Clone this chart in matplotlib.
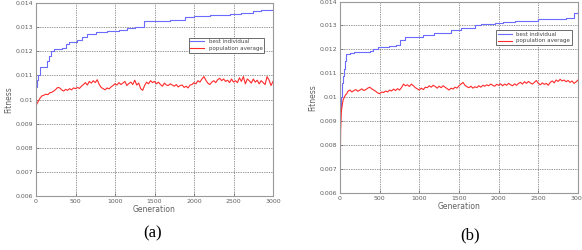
import numpy as np
import matplotlib
matplotlib.use("Agg")
import matplotlib.pyplot as plt

# ---- panel (a) data ----
best_a_gen = [0, 15, 30, 50, 140, 160, 190, 230, 330, 380, 420, 520, 580, 640, 760,
              900, 1050, 1150, 1250, 1370, 1700, 1880, 2000, 2200, 2450, 2600, 2750,
              2850, 2950, 3000]
best_a = [0.0105, 0.0108, 0.0110, 0.01135, 0.0116, 0.0118, 0.0120, 0.0121, 0.01215,
          0.0123, 0.0124, 0.01245, 0.0126, 0.0127, 0.0128, 0.01285, 0.0129, 0.01295,
          0.0130, 0.01325, 0.0133, 0.0134, 0.01345, 0.0135, 0.01355, 0.0136, 0.01365,
          0.0137, 0.01373, 0.01377]

avg_a_gen = np.arange(0, 3001, 25)
avg_a = [
    0.00975, 0.00990, 0.01005, 0.01015, 0.01018, 0.01022, 0.01020, 0.01028, 0.01030, 0.01035,
    0.01042, 0.01050, 0.01048, 0.01040, 0.01035, 0.01042, 0.01038, 0.01045, 0.01040, 0.01048,
    0.01045, 0.01050, 0.01046, 0.01055, 0.01062, 0.01070, 0.01060, 0.01075, 0.01068, 0.01078,
    0.01070, 0.01082, 0.01062, 0.01050, 0.01045, 0.01040, 0.01048, 0.01044, 0.01052, 0.01058,
    0.01065, 0.01060, 0.01070, 0.01062, 0.01068, 0.01075, 0.01058, 0.01066, 0.01072, 0.01062,
    0.01080, 0.01060, 0.01068, 0.01045, 0.01038, 0.01058, 0.01072, 0.01065, 0.01078, 0.01070,
    0.01075, 0.01065, 0.01072, 0.01062, 0.01055, 0.01068, 0.01060, 0.01058, 0.01065, 0.01060,
    0.01055, 0.01062, 0.01052, 0.01058, 0.01060, 0.01050, 0.01055, 0.01048, 0.01060, 0.01062,
    0.01070, 0.01065, 0.01078, 0.01072, 0.01085, 0.01095, 0.01080, 0.01068, 0.01062, 0.01072,
    0.01078, 0.01070, 0.01082, 0.01088, 0.01078, 0.01085, 0.01075, 0.01080, 0.01070, 0.01085,
    0.01072, 0.01078, 0.01070, 0.01090, 0.01075, 0.01095, 0.01065, 0.01085, 0.01078, 0.01068,
    0.01085, 0.01072, 0.01080, 0.01065, 0.01078, 0.01070, 0.01062, 0.01095, 0.01080, 0.01058,
    0.01075]

# ---- panel (b) data ----
best_b_gen = [0, 10, 20, 30, 40, 50, 60, 70, 80, 100, 130, 180, 380, 420, 480, 620, 700,
              760, 820, 1050, 1180, 1400, 1520, 1700, 1780, 1950, 2050, 2200, 2500, 2850,
              2950, 3000]
best_b = [0.0095, 0.0100, 0.0103, 0.0106, 0.0109, 0.0112, 0.0115, 0.0117, 0.0118,
          0.01182, 0.01185, 0.0119, 0.01195, 0.0120, 0.0121, 0.01215, 0.0122, 0.0124,
          0.0125, 0.0126, 0.0127, 0.0128, 0.0129, 0.0130, 0.01305, 0.0131, 0.01315,
          0.0132, 0.01325, 0.0133, 0.0135, 0.0136]

avg_b_early_gen = [0, 2, 4, 6, 8, 12, 16, 20, 30, 40, 55, 70, 85]
avg_b_early = [0.0060, 0.0072, 0.0080, 0.0078, 0.0086, 0.0090, 0.0093, 0.0095, 0.0097,
               0.0099, 0.0100, 0.0101, 0.01015]
avg_b_gen = np.arange(100, 3001, 25)
avg_b = [
    0.01025, 0.01030, 0.01022, 0.01028, 0.01032, 0.01025, 0.01030, 0.01035, 0.01028, 0.01032,
    0.01038, 0.01042, 0.01035, 0.01030, 0.01025, 0.01018, 0.01015, 0.01022, 0.01020, 0.01026,
    0.01022, 0.01030, 0.01026, 0.01034, 0.01028, 0.01036, 0.01030, 0.01040, 0.01055, 0.01048,
    0.01052, 0.01045, 0.01055, 0.01048, 0.01040, 0.01035, 0.01030, 0.01038, 0.01032, 0.01042,
    0.01040, 0.01048, 0.01042, 0.01050, 0.01045, 0.01038, 0.01046, 0.01040, 0.01048, 0.01042,
    0.01036, 0.01030, 0.01038, 0.01034, 0.01042, 0.01038, 0.01048, 0.01055, 0.01062, 0.01050,
    0.01044, 0.01040, 0.01046, 0.01038, 0.01044, 0.01040, 0.01048, 0.01042, 0.01050, 0.01046,
    0.01052, 0.01048, 0.01055, 0.01050, 0.01046, 0.01054, 0.01050, 0.01056, 0.01048, 0.01055,
    0.01050, 0.01058, 0.01052, 0.01048, 0.01056, 0.01050, 0.01058, 0.01062, 0.01055, 0.01065,
    0.01058, 0.01066, 0.01060, 0.01055, 0.01062, 0.01070, 0.01058, 0.01052, 0.01060, 0.01054,
    0.01058, 0.01050, 0.01062, 0.01068, 0.01060, 0.01072, 0.01066, 0.01075, 0.01068, 0.01072,
    0.01065, 0.01070, 0.01062, 0.01068, 0.01058, 0.01064, 0.01072]

yticks = [0.006, 0.007, 0.008, 0.009, 0.01, 0.011, 0.012, 0.013, 0.014]
ytick_labels = ["0.006", "0.007", "0.008", "0.009", "0.01", "0.011", "0.012", "0.013", "0.014"]
xticks = [0, 500, 1000, 1500, 2000, 2500, 3000]

blue = "#6b6bff"
red = "#ff2a2a"
gray = "#606060"


def style_axes(ax):
    ax.set_xlim(0, 3000)
    ax.set_ylim(0.006, 0.014)
    ax.set_xticks(xticks)
    ax.set_xticklabels([str(t) for t in xticks])
    ax.set_yticks(yticks)
    ax.set_yticklabels(ytick_labels)
    ax.tick_params(direction="in", labelsize=4.5, labelcolor=gray, color=gray,
                   length=2, width=0.5, pad=2)
    ax.grid(True, linestyle=(0, (1, 1.5)), color="#333333", linewidth=0.5)
    for s in ax.spines.values():
        s.set_color("#999999")
        s.set_linewidth(0.8)
    ax.set_xlabel("Generation", fontsize=5.5, color=gray, labelpad=1)
    ax.set_ylabel("Fitness", fontsize=5.5, color=gray, labelpad=2)


fig = plt.figure(figsize=(5.82, 2.5), dpi=100)

ax1 = fig.add_axes([36 / 582, 54 / 250, 237 / 582, 193 / 250])
ax1.plot(best_a_gen, best_a, color=blue, lw=0.8, drawstyle="steps-post", label="best individual")
ax1.plot(avg_a_gen, avg_a, color=red, lw=0.8, label="population average")
style_axes(ax1)
leg = ax1.legend(loc="upper right", bbox_to_anchor=(0.975, 0.835), fontsize=4,
                 fancybox=False, edgecolor="#333333", framealpha=1,
                 handlelength=2.5, borderpad=0.3, labelspacing=0.3)
leg.get_frame().set_linewidth(0.5)
for t in leg.get_texts():
    t.set_color("#444444")

ax2 = fig.add_axes([340 / 582, 57 / 250, 238 / 582, 191.5 / 250])
ax2.plot(best_b_gen, best_b, color=blue, lw=0.8, drawstyle="steps-post", label="best individual")
ax2.plot(list(avg_b_early_gen) + list(avg_b_gen), avg_b_early + avg_b, color=red, lw=0.8,
         label="population average")
style_axes(ax2)
leg = ax2.legend(loc="upper right", bbox_to_anchor=(0.985, 0.865), fontsize=4,
                 fancybox=False, edgecolor="#333333", framealpha=1,
                 handlelength=2.5, borderpad=0.3, labelspacing=0.3)
leg.get_frame().set_linewidth(0.5)
for t in leg.get_texts():
    t.set_color("#444444")

fig.text(153 / 582, 17 / 250, "(a)", fontsize=12, family="Liberation Serif",
         ha="center", va="center")
fig.text(470 / 582, 15 / 250, "(b)", fontsize=12, family="Liberation Serif",
         ha="center", va="center")

fig.savefig("out.png", dpi=100)
